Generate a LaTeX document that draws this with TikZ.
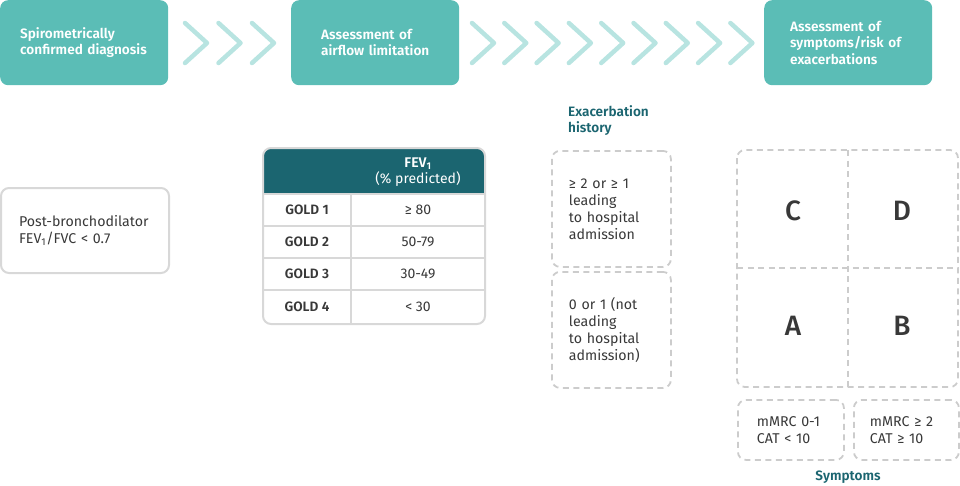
\documentclass[tikz,border=0pt]{standalone}
\usepackage{fontspec}
\setmainfont{Fira Sans}[BoldFont={Fira Sans SemiBold}]
\newfontfamily\medfont{Fira Sans Medium}

\definecolor{stagefill}{HTML}{5BBDB6}
\definecolor{chevcol}{HTML}{B8E4E1}
\definecolor{darkteal}{HTML}{1B6570}
\definecolor{boxgray}{HTML}{D8D8D8}
\definecolor{dashgray}{HTML}{CCCCCC}
\definecolor{txtgray}{HTML}{383838}

\begin{document}
\begin{tikzpicture}[x=1pt,y=-1pt,
    stage/.style={fill=stagefill, rounded corners=8pt, anchor=north west,
        minimum width=168pt, minimum height=85pt, inner xsep=20pt, text width=128pt,
        align=left, text=white, font=\bfseries\fontsize{13.6}{16.5}\selectfont},
    chevron/.style={chevcol, line width=4.5pt, line cap=round, line join=round},
    greybox/.style={draw=boxgray, line width=2pt, rounded corners=8pt, anchor=north west},
    dashbox/.style={draw=dashgray, line width=1.8pt, dash pattern=on 6pt off 4.5pt,
        rounded corners=8pt, anchor=north west},
    bodytext/.style={text=txtgray, font=\fontsize{14.2}{17}\selectfont, align=left},
    headtext/.style={text=darkteal, font=\bfseries\fontsize{13.6}{16}\selectfont, align=left},
    cell/.style={text=txtgray, font=\fontsize{14}{16}\selectfont},
    letter/.style={text=txtgray, font=\medfont\fontsize{28}{28}\selectfont}]

    \useasboundingbox (0,0) rectangle (960,485);

    % stages along the top
    \node[stage] (diag) at (0,0) {Spirometrically\\confirmed diagnosis};
    \node[stage] (airflow) at (291,0)
        {\hspace*{10pt}Assessment of\\\hspace*{10pt}airflow limitation};
    \node[stage] (risk) at (764,0)
        {\hspace*{6pt}Assessment of\\\hspace*{6pt}symptoms/risk of\\\hspace*{6pt}exacerbations};

    \foreach \x in {185,218.5,252}
        \draw[chevron] (\x,23) -- (\x+22,43) -- (\x,63);
    \foreach \i in {0,...,8}
        \draw[chevron] (472+32.3*\i,23) -- (494+32.3*\i,43) -- (472+32.3*\i,63);

    % diagnosis
    \node[greybox, bodytext, minimum width=168pt, minimum height=85pt, inner xsep=18pt,
        text width=132pt] (ratio) at (0,187) {Post-bronchodilator\\FEV\textsubscript{1}/FVC < 0.7};

    % GOLD table
    \begin{scope}
        \clip[rounded corners=8pt] (263,148) rectangle (485,324);
        \fill[darkteal] (263,148) rectangle (485,194);
    \end{scope}
    \draw[boxgray, line width=2pt] (263,194) -- (485,194)
        (263,226) -- (485,226) (263,258) -- (485,258) (263,290) -- (485,290)
        (351,194) -- (351,324);
    \draw[boxgray, line width=2pt, rounded corners=8pt] (263,148) rectangle (485,324);
    \node[text=white, align=center, font=\fontsize{14}{16}\selectfont] (fevhead) at (418,172)
        {\textbf{FEV\textsubscript{1}}\\(\% predicted)};
    \foreach \g/\y/\v in {1/210/≥ 80, 2/242/50-79, 3/274/30-49, 4/307/< 30} {
        \node[cell, font=\bfseries\fontsize{13.6}{16}\selectfont] (gold\g) at (307,\y) {GOLD \g};
        \node[cell] (fev\g) at (418,\y) {\v};
    }

    % exacerbation history
    \node[headtext, anchor=north west, inner sep=0pt] (exhist) at (568,105) {Exacerbation\\history};
    \node[dashbox, bodytext, minimum width=119pt, minimum height=116pt, inner xsep=17pt,
        text width=85pt] (high) at (551,150) {≥ 2 or ≥ 1\\leading\\to hospital\\admission};
    \node[dashbox, bodytext, minimum width=119pt, minimum height=116pt, inner xsep=17pt,
        text width=85pt] (low) at (551,271) {0 or 1 (not\\leading\\to hospital\\admission)};

    % ABCD grid
    \draw[dashgray, line width=1.8pt, dash pattern=on 6pt off 4.5pt, rounded corners=8pt]
        (737,150) rectangle (958,387);
    \draw[dashgray, line width=1.8pt, dash pattern=on 6pt off 4.5pt]
        (848,150) -- (848,387) (737,268) -- (958,268);
    \node[letter] (grpC) at (793,211) {C};
    \node[letter] (grpD) at (902,211) {D};
    \node[letter] (grpA) at (793,326) {A};
    \node[letter] (grpB) at (902,326) {B};

    % symptoms
    \node[dashbox, bodytext, minimum width=106pt, minimum height=60pt, inner xsep=19pt,
        text width=68pt] (symlow) at (737,399) {mMRC 0-1\\CAT < 10};
    \node[dashbox, bodytext, minimum width=105pt, minimum height=60pt, inner xsep=16pt,
        text width=73pt] (symhigh) at (853,399) {mMRC ≥ 2\\CAT ≥ 10};
    \node[headtext, align=center] (symptoms) at (848,477) {Symptoms};
\end{tikzpicture}
\end{document}
